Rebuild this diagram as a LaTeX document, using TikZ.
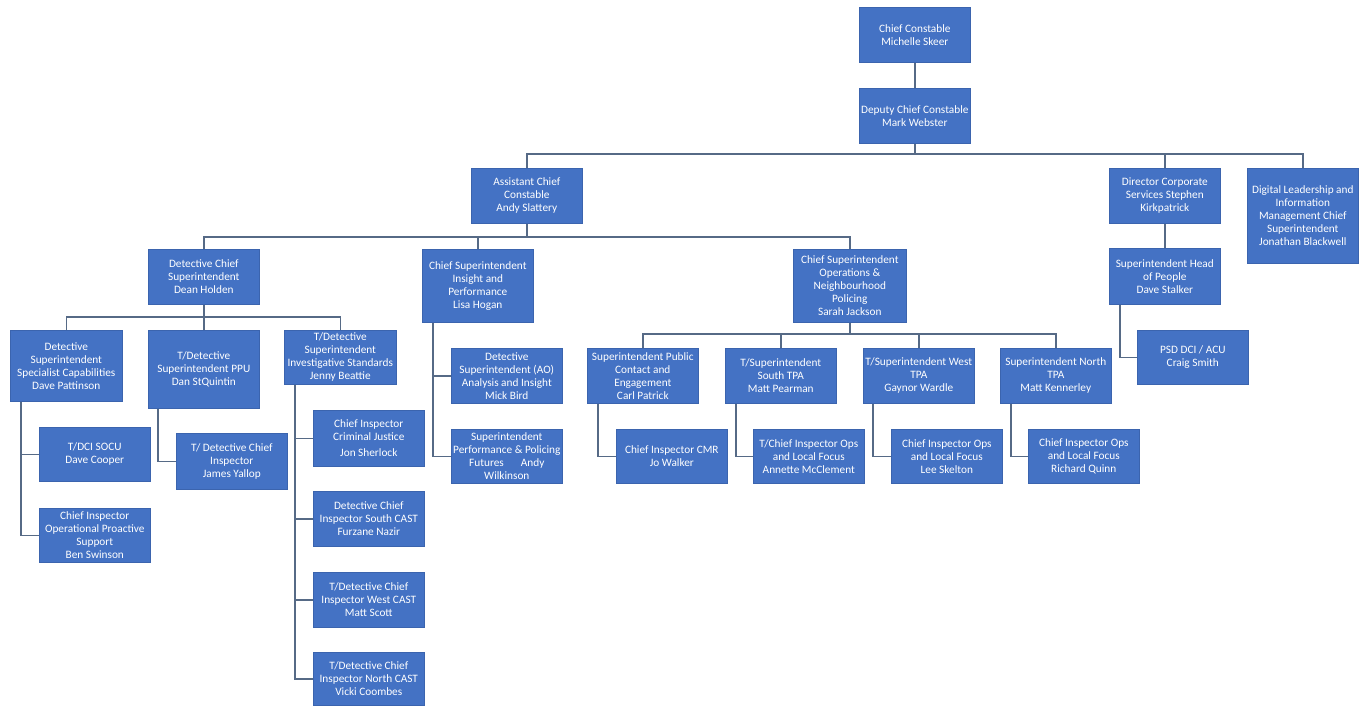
\documentclass[tikz,border=0pt]{standalone}
\usepackage{fontspec}
\setmainfont{Carlito}
\definecolor{boxblue}{HTML}{4472C4}
\definecolor{boxedge}{HTML}{3B64AE}
\definecolor{linkc}{HTML}{566A86}
\newcommand\orgbox[6]{\node[box,minimum width=#4pt,minimum height=#5pt] (#1) at (#2,#3) {#6};}
\begin{document}
\begin{tikzpicture}[x=1pt,y=-1pt,
  box/.style={draw=boxedge, line width=0.6pt, fill=boxblue, text=white, align=center,
    inner sep=0pt, anchor=north west, font=\fontsize{11.3}{13}\selectfont},
  link/.style={draw=linkc, line width=1.6pt, line join=miter}]
\useasboundingbox[fill=white] (0,0) rectangle (1362,706);

% level 0-1
\orgbox{cc}{859}{7}{111}{55}{Chief Constable\\Michelle Skeer}
\orgbox{dcc}{859}{88}{111}{55}{Deputy Chief Constable\\Mark Webster}
% level 2
\orgbox{acc}{471}{168}{111}{55}{Assistant Chief\\Constable\\Andy Slattery}
\orgbox{dir}{1109}{168}{111}{55}{Director Corporate\\Services Stephen\\Kirkpatrick}
\orgbox{digital}{1247}{168}{111}{95}{Digital Leadership and\\Information\\Management Chief\\Superintendent\\Jonathan Blackwell}
\orgbox{head}{1109}{248}{111}{56}{Superintendent Head\\of People\\Dave Stalker}
\orgbox{psd}{1137}{330}{111}{54}{PSD DCI / ACU\\Craig Smith}
% level 3
\orgbox{holden}{148}{249}{111}{55}{Detective Chief\\Superintendent\\Dean Holden}
\orgbox{insight}{422}{249}{111}{73}{Chief Superintendent\\Insight and\\Performance\\Lisa Hogan}
\orgbox{sarah}{793}{249}{113}{73}{Chief Superintendent\\Operations \&\\Neighbourhood\\Policing\\Sarah Jackson}
% Holden's team
\orgbox{pattinson}{10}{330}{112}{71}{Detective\\Superintendent\\Specialist Capabilities\\Dave Pattinson}
\orgbox{ppu}{148}{330}{111}{78}{T/Detective\\Superintendent PPU\\Dan StQuintin}
\orgbox{invest}{284}{330}{112}{54}{T/Detective\\Superintendent\\Investigative Standards\\Jenny Beattie}
\orgbox{socu}{39}{427}{111}{54}{T/DCI SOCU\\Dave Cooper}
\orgbox{swinson}{39}{508}{111}{54}{Chief Inspector\\Operational Proactive\\Support\\Ben Swinson}
\orgbox{yallop}{176}{433}{111}{56}{T/ Detective Chief\\Inspector\\James Yallop}
\orgbox{sherlock}{313}{410}{111}{56}{Chief Inspector\\Criminal Justice\\[3pt]Jon Sherlock}
\orgbox{nazir}{313}{491}{111}{55}{Detective Chief\\Inspector South CAST\\Furzane Nazir}
\orgbox{scott}{313}{572}{111}{55}{T/Detective Chief\\Inspector West CAST\\Matt Scott}
\orgbox{coombes}{313}{652}{111}{53}{T/Detective Chief\\Inspector North CAST\\Vicki Coombes}
% Insight team
\orgbox{bird}{451}{348}{111}{55}{Detective\\Superintendent (AO)\\Analysis and Insight\\Mick Bird}
\orgbox{wilkinson}{451}{429}{111}{54}{Superintendent\\Performance \& Policing\\Futures\hspace{1.5em}Andy\\Wilkinson}
% Ops team
\orgbox{public}{587}{348}{111}{55}{Superintendent Public\\Contact and\\Engagement\\Carl Patrick}
\orgbox{stpa}{725}{348}{111}{55}{T/Superintendent\\South TPA\\Matt Pearman}
\orgbox{wtpa}{863}{348}{111}{55}{T/Superintendent West\\TPA\\Gaynor Wardle}
\orgbox{ntpa}{1000}{348}{111}{55}{Superintendent North\\TPA\\Matt Kennerley}
\orgbox{cmr}{616}{429}{111}{54}{Chief Inspector CMR\\Jo Walker}
\orgbox{annette}{753}{429}{111}{54}{T/Chief Inspector Ops\\and Local Focus\\Annette McClement}
\orgbox{skelton}{891}{429}{111}{54}{Chief Inspector Ops\\and Local Focus\\Lee Skelton}
\orgbox{quinn}{1028}{429}{111}{54}{Chief Inspector Ops\\and Local Focus\\Richard Quinn}

% bus levels
\coordinate (busA) at (0,154);
\coordinate (busB) at (0,237);
\coordinate (busC) at (0,317);
\coordinate (busD) at (0,334);

% connectors
\draw[link] (cc) -- (dcc);
\draw[link] (dcc.south) -- (dcc.south |- busA);
\draw[link] (acc.north) |- (digital.north |- busA) -- (digital.north);
\draw[link] (dir.north) -- (dir.north |- busA);
\draw[link] (dir) -- (head);
\draw[link] ([xshift=11]head.south west) |- (psd.west);

\draw[link] (acc.south) -- (acc.south |- busB);
\draw[link] (holden.north) |- (sarah.north |- busB) -- (sarah.north);
\draw[link] (insight.north) -- (insight.north |- busB);

\draw[link] (holden.south) -- (holden.south |- busC);
\draw[link] (pattinson.north) |- (invest.north |- busC) -- (invest.north);
\draw[link] (ppu.north) -- (ppu.north |- busC);

\draw[link] (sarah.south) -- (sarah.south |- busD);
\draw[link] (public.north) |- (ntpa.north |- busD) -- (ntpa.north);
\draw[link] (stpa.north) -- (stpa.north |- busD);
\draw[link] (wtpa.north) -- (wtpa.north |- busD);

\draw[link] ([xshift=11]pattinson.south west) |- (socu.west);
\draw[link] ([xshift=11]pattinson.south west) |- (swinson.west);
\draw[link] ([xshift=10]ppu.south west) |- (yallop.west);
\draw[link] ([xshift=11]invest.south west) |- (sherlock.west);
\draw[link] ([xshift=11]invest.south west) |- (nazir.west);
\draw[link] ([xshift=11]invest.south west) |- (scott.west);
\draw[link] ([xshift=11]invest.south west) |- (coombes.west);
\draw[link] ([xshift=11]insight.south west) |- (bird.west);
\draw[link] ([xshift=11]insight.south west) |- (wilkinson.west);
\draw[link] ([xshift=11]public.south west) |- (cmr.west);
\draw[link] ([xshift=11]stpa.south west) |- (annette.west);
\draw[link] ([xshift=10]wtpa.south west) |- (skelton.west);
\draw[link] ([xshift=11]ntpa.south west) |- (quinn.west);
\end{tikzpicture}
\end{document}
